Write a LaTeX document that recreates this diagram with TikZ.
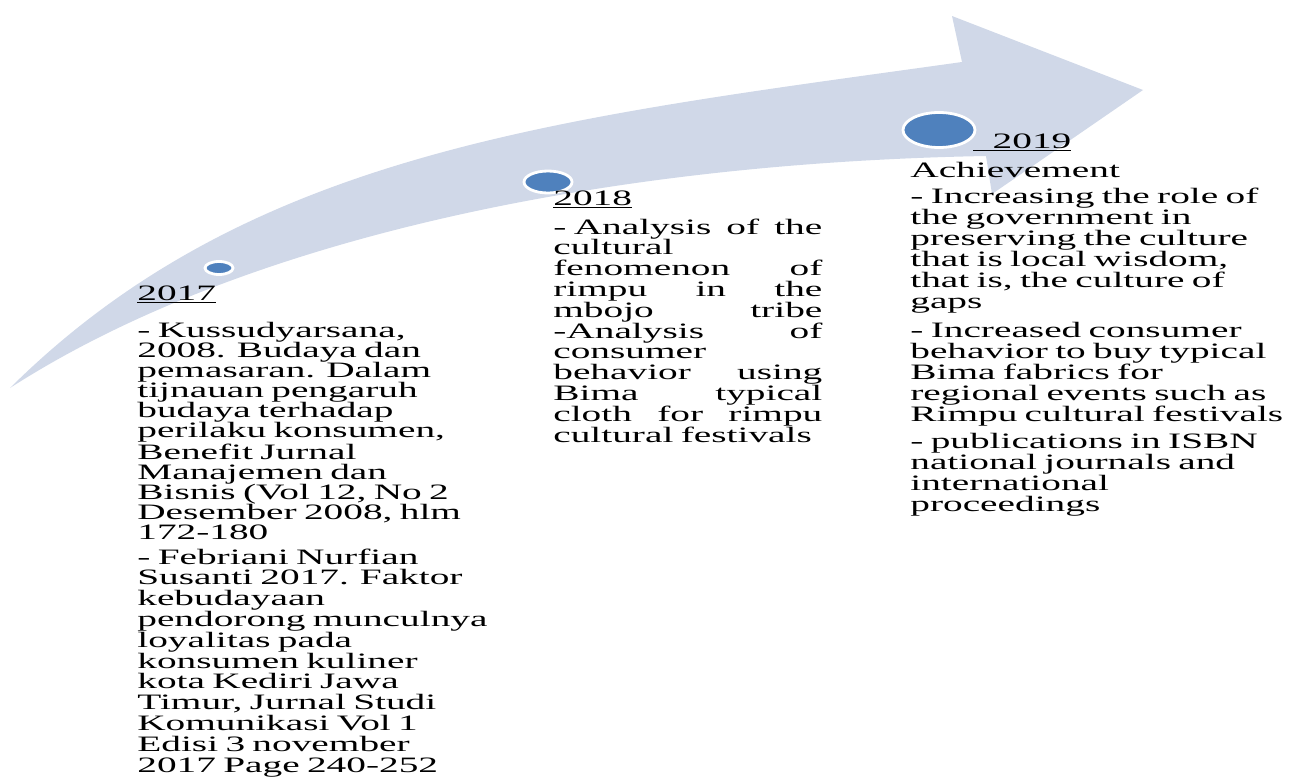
\documentclass[tikz,border=0pt]{standalone}
\usepackage{fontspec}
\setmainfont{Liberation Serif}[FakeStretch=1.79]
\usepackage{xcolor}
\definecolor{arrowfill}{RGB}{208,216,232}
\definecolor{dotblue}{RGB}{79,129,189}
\newcommand{\jline}[1]{\makebox[53.8mm][l]{#1}}

\begin{document}
\begin{tikzpicture}[x=0.2mm,y=-0.2mm,
  txt/.style={anchor=base west,inner sep=0pt,align=left,text width=76mm,font=\fontsize{12.5}{#1}\selectfont},
  txt/.default=11.8,
  dot/.style={fill=dotblue,draw=white,line width=1.6pt}]
\useasboundingbox (0,0) rectangle (1289,776);
\fill[arrowfill] (10,388) .. controls (250,150) and (562,118) .. (962,62) -- (952,16) -- (1143,90) -- (992,194) -- (986,156) .. controls (600,163) and (240,240) .. (10,388) -- cycle;
\draw[dot] (219,268) ellipse (14 and 6.5);
\draw[dot] (548,182) ellipse (24 and 11);
\draw[dot] (939,130) ellipse (36 and 17.5);
\node[txt] (year2017) at (137,300) {\underline{2017}};
\node[txt=11.4] (ref2017a) at (137,337) {- Kussudyarsana,\\2008. Budaya dan\\pemasaran. Dalam\\tijnauan pengaruh\\budaya terhadap\\perilaku konsumen,\\Benefit Jurnal\\Manajemen dan\\Bisnis (Vol 12, No 2\\Desember 2008, hlm\\172-180};
\node[txt=11.85] (ref2017b) at (137,564) {- Febriani Nurfian\\Susanti 2017. Faktor\\kebudayaan\\pendorong munculnya\\loyalitas pada\\konsumen kuliner\\kota Kediri Jawa\\Timur, Jurnal Studi\\Komunikasi Vol 1\\Edisi 3 november\\2017 Page 240-252};
\node[txt] (year2018) at (553,205) {\underline{2018}};
\node[txt=11.85,text width=53.8mm] (plan2018) at (553,234) {\jline{- Analysis\hfill of\hfill the}\\cultural\\\jline{fenomenon\hfill of}\\\jline{rimpu\hfill in\hfill the}\\\jline{mbojo\hfill tribe}\\\jline{-Analysis\hfill of}\\consumer\\\jline{behavior\hfill using}\\\jline{Bima\hfill typical}\\\jline{cloth\hfill for\hfill rimpu}\\cultural festivals};
\node[txt] (year2019) at (973,148) {\underline{\hspace{11pt}2019}};
\node[txt] (head2019) at (910,177) {Achievement};
\node[txt=11.95] (goal2019a) at (910,203) {- Increasing the role of\\the government in\\preserving the culture\\that is local wisdom,\\that is, the culture of\\gaps};
\node[txt=11.95] (goal2019b) at (910,337) {- Increased consumer\\behavior to buy typical\\Bima fabrics for\\regional events such as\\Rimpu cultural festivals};
\node[txt=11.95] (goal2019c) at (910,448) {- publications in ISBN\\national journals and\\international\\proceedings};
\end{tikzpicture}
\end{document}
